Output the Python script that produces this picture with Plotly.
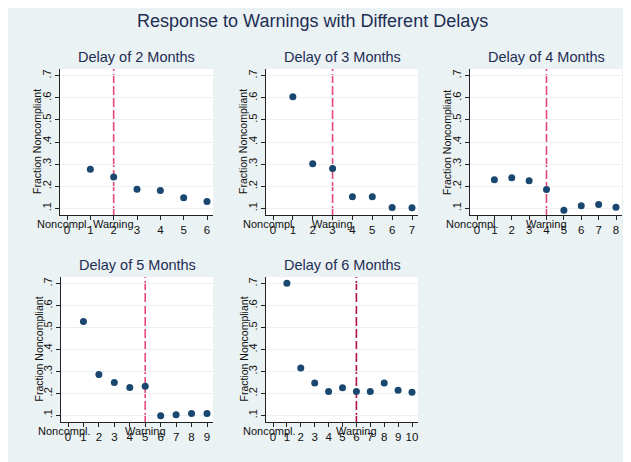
import plotly.graph_objects as go

W, H = 631, 462
OFF = 8  # page body margin offset

main_title = "Response to Warnings with Different Delays"
panel_titles = ["Delay of 2 Months", "Delay of 3 Months", "Delay of 4 Months",
                "Delay of 5 Months", "Delay of 6 Months"]
delays = [2, 3, 4, 5, 6]

vals_d2 = [0.277, 0.242, 0.186, 0.181, 0.148, 0.131]
vals_d3 = [0.604, 0.302, 0.280, 0.152, 0.152, 0.104, 0.103]
vals_d4 = [0.229, 0.238, 0.225, 0.185, 0.092, 0.112, 0.118, 0.105]
vals_d5 = [0.527, 0.286, 0.250, 0.227, 0.233, 0.098, 0.103, 0.109, 0.109]
vals_d6 = [0.702, 0.316, 0.247, 0.209, 0.226, 0.209, 0.209, 0.248, 0.214, 0.205]
series = [vals_d2, vals_d3, vals_d4, vals_d5, vals_d6]

y_tick_vals = [0.1, 0.2, 0.3, 0.4, 0.5, 0.6, 0.7]
y_tick_text = [".1", ".2", ".3", ".4", ".5", ".6", ".7"]
y_title = "Fraction Noncompliant"
label_start = "Noncompl."
label_warn = "Warning"

BG = "#EAF2F3"
NAVY = "#1A476F"
TXT = "#1E2D53"
line_colors = ["#E4497A", "#E4497A", "#E4497A", "#E4497A", "#B3113F"]

# pixel boxes of plot areas in the viewport (x0, x1, ytop, ybottom)
boxes = [(60, 213, 69, 215), (266, 418, 69, 215), (470, 622, 69, 215),
         (61, 213, 277, 422), (266, 418, 277, 422)]

fig = go.Figure()
layout = dict(
    width=W, height=H, margin=dict(l=0, r=0, t=0, b=0),
    paper_bgcolor=BG, plot_bgcolor="white", showlegend=False,
    font=dict(family="Liberation Sans, Arial, sans-serif", color="#111111"),
)
annotations = []
shapes = []

for i, (vals, d, ttl, box) in enumerate(zip(series, delays, panel_titles, boxes)):
    x0, x1, yt, yb = [v - OFF for v in box]
    n = len(vals)
    xs = list(range(1, n + 1))
    ppu = (x1 - x0 - 13) / n
    xr = [-7 / ppu, n + 6 / ppu]
    k = "" if i == 0 else str(i + 1)
    fig.add_trace(go.Scatter(
        x=xs, y=vals, mode="markers", xaxis="x" + k, yaxis="y" + k,
        marker=dict(color=NAVY, size=7, line=dict(width=0)),
        hoverinfo="x+y"))
    layout["xaxis" + k] = dict(
        domain=[x0 / W, x1 / W], range=xr, anchor="y" + k,
        tickmode="array", tickvals=list(range(0, n + 1)),
        ticktext=[str(v) for v in range(0, n + 1)],
        showgrid=False, zeroline=False, showline=True, linecolor="#222222",
        linewidth=1, ticks="outside", ticklen=4, tickcolor="#222222",
        tickfont=dict(size=11.5, color="#111111"), fixedrange=True)
    layout["yaxis" + k] = dict(
        domain=[1 - yb / H, 1 - yt / H], range=[0.07, 0.73], anchor="x" + k,
        tickmode="array", tickvals=y_tick_vals, ticktext=y_tick_text,
        tickangle=-90, showgrid=True, gridcolor=BG, gridwidth=1,
        zeroline=False, showline=True, linecolor="#222222", linewidth=1,
        ticks="outside", ticklen=4, tickcolor="#222222",
        tickfont=dict(size=11, color="#111111"), fixedrange=True)
    shapes.append(dict(type="line", xref="x" + k, yref="y" + k + " domain",
                       x0=d, x1=d, y0=0, y1=1, layer="below",
                       line=dict(color=line_colors[i], width=1.6, dash="9px,3px")))
    annotations.append(dict(text=y_title, xref="x" + k + " domain", yref="y" + k + " domain",
                            x=0, y=0.5, xanchor="center", yanchor="middle", xshift=-23,
                            textangle=-90, showarrow=False,
                            font=dict(size=10.5, color="#111111")))
    annotations.append(dict(text=ttl, xref="x" + k + " domain", yref="y" + k + " domain",
                            x=0.5, y=1, xanchor="center", yanchor="bottom", yshift=2,
                            showarrow=False, font=dict(size=14.5, color=TXT)))
    annotations.append(dict(text=label_start, xref="x" + k, yref="y" + k + " domain",
                            x=0, y=0, xanchor="center", yanchor="top", yshift=-1, xshift=-4,
                            showarrow=False, font=dict(size=11, color="#111111")))
    annotations.append(dict(text=label_warn, xref="x" + k, yref="y" + k + " domain",
                            x=d, y=0, xanchor="center", yanchor="top", yshift=-1,
                            showarrow=False, font=dict(size=11, color="#111111")))

annotations.append(dict(text=main_title, xref="paper", yref="paper",
                        x=(312 - OFF) / W, y=1 - (21 - OFF) / H, xanchor="center",
                        yanchor="middle", showarrow=False,
                        font=dict(size=18, color=TXT)))
layout["annotations"] = annotations
layout["shapes"] = shapes
fig.update_layout(**layout)
fig.write_html("out.html", config={"displayModeBar": False})
